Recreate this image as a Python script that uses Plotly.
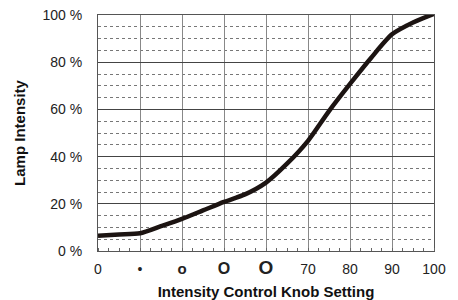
import plotly.graph_objects as go

knob = [20, 25, 30, 35, 40, 45, 50, 55, 60, 65, 70, 75, 80, 85, 90, 95, 100]
intensity = [6.5, 7.0, 7.5, 10.5, 13.6, 17.2, 20.8, 24.0, 29.0, 37.0, 46.7, 59.3, 70.8, 81.8, 91.8, 96.8, 100.5]

x_tickvals = [20, 30, 40, 50, 60, 70, 80, 90, 100]
x_ticktext = [
    "0",
    "<span style='font-size:14px'>•</span>",
    "<b style='font-size:15px'>o</b>",
    "<b style='font-size:16px'>O</b>",
    "<b style='font-size:19px'>O</b>",
    "70", "80", "90", "100",
]
y_tickvals = [0, 20, 40, 60, 80, 100]
y_ticktext = ["0 %", "20 %", "40 %", "60 %", "80 %", "100 %"]

fig = go.Figure()
fig.add_trace(go.Scatter(
    x=knob, y=intensity, mode="lines",
    line=dict(color="#1c1412", width=4.5, shape="spline", smoothing=0.7),
    hoverinfo="skip",
))

font = "Liberation Sans, Arial, sans-serif"
fig.update_layout(
    width=450, height=292,
    margin=dict(l=90, r=24, t=7, b=49),
    paper_bgcolor="white", plot_bgcolor="white",
    showlegend=False,
    font=dict(family=font, size=14, color="#222"),
    xaxis=dict(
        range=[20, 100], automargin=False,
        tickvals=x_tickvals, ticktext=x_ticktext,
        showgrid=True, gridcolor="#888", gridwidth=1,
        showline=True, linecolor="#555", linewidth=1, mirror=True,
        ticks="", ticklabelstandoff=5, ticklabeloverflow="allow",
        zeroline=False,
        minor=dict(dtick=2.5, tick0=20, ticks="inside", ticklen=3, tickcolor="#666", showgrid=False),
        title=dict(text="<b>Intensity Control Knob Setting</b>", font=dict(size=15, color="#111"), standoff=9),
        tickfont=dict(size=14, color="#222"),
    ),
    yaxis=dict(
        range=[0, 100], automargin=False,
        tickvals=y_tickvals, ticktext=y_ticktext,
        showgrid=True, gridcolor="#444", gridwidth=1,
        showline=True, linecolor="#555", linewidth=1, mirror=True,
        ticks="", ticklabelstandoff=12, ticklabeloverflow="allow",
        zeroline=False,
        minor=dict(dtick=5, tick0=0, showgrid=True, gridcolor="#777", griddash="dot", gridwidth=1),
        title=dict(text="<b>Lamp Intensity</b>", font=dict(size=15, color="#111"), standoff=13),
        tickfont=dict(size=14, color="#222"),
    ),
)

fig.write_html("out.html")
